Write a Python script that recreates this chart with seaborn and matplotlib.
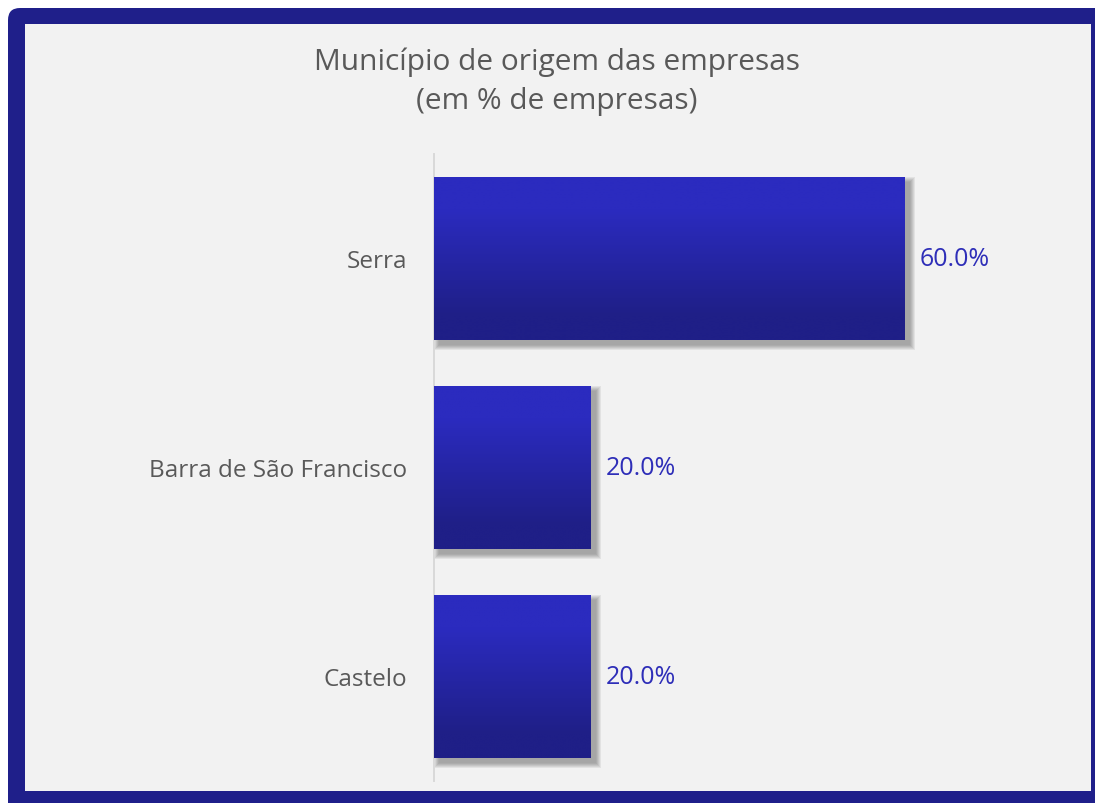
import matplotlib
matplotlib.use("Agg")
import matplotlib.pyplot as plt
import matplotlib.transforms as mtransforms
import numpy as np
import seaborn as sns
from matplotlib.colors import LinearSegmentedColormap
from matplotlib.patches import FancyBboxPatch, Rectangle

# data
municipios = ["Serra", "Barra de São Francisco", "Castelo"]
percentuais = [60.0, 20.0, 20.0]

BORDER = "#1f1f8a"
BG = "#f2f2f2"
TEXT = "#595959"
LABEL = "#2e2eb8"
BAR_TOP = "#2b2bbf"
BAR_BOTTOM = "#1f1f87"

sns.set_theme(style="white")
plt.rcParams["font.family"] = ["Open Sans", "DejaVu Sans"]

W, H = 1095, 804
fig = plt.figure(figsize=(W / 100, H / 100), dpi=100)
fig.patch.set_facecolor("white")
ident = mtransforms.IdentityTransform()

# outer frame with rounded corner, light panel inside
fig.add_artist(FancyBboxPatch((8, -26), 1112, 821,
                              boxstyle="round,pad=0,rounding_size=12",
                              facecolor=BORDER, edgecolor="none",
                              transform=ident, zorder=0))
fig.add_artist(Rectangle((25, H - 792), 1066, 767, facecolor=BG,
                         edgecolor="none", transform=ident, zorder=0.5))

ax = fig.add_axes([434 / W, (H - 782) / H, (1075 - 434) / W, (782 - 155) / H])
ax.set_facecolor("none")
ax.set_zorder(2)

sns.barplot(x=percentuais, y=municipios, orient="h", width=0.776,
            color=BAR_TOP, ax=ax, zorder=3)
ax.set_xlim(0, 81.7)
ax.set_ylim(2.5, -0.5)

for s in ["top", "right", "bottom"]:
    ax.spines[s].set_visible(False)
ax.spines["left"].set_color("#d9d9d9")
ax.spines["left"].set_linewidth(1.4)
ax.set_xticks([])
ax.set_xlabel("")
ax.set_ylabel("")
ax.tick_params(axis="y", length=0, pad=19, labelsize=17.5, labelcolor=TEXT)

# gradient fill + soft shadow for each bar
cmap = LinearSegmentedColormap.from_list(
    "bar", [(0, BAR_TOP), (0.2, BAR_TOP), (0.85, BAR_BOTTOM), (1, BAR_BOTTOM)], N=256)
grad = np.linspace(0, 1, 256).reshape(-1, 1)
fig.canvas.draw()
for patch in list(ax.patches):
    bb = patch.get_bbox()
    x0, x1 = bb.x0, bb.x1
    ylo, yhi = min(bb.y0, bb.y1), max(bb.y0, bb.y1)
    img = ax.imshow(grad, cmap=cmap, aspect="auto", origin="upper",
                    extent=(x0, x1, yhi, ylo), zorder=3, interpolation="bilinear")
    img.set_clip_path(patch)
    patch.set_facecolor("none")
    patch.set_edgecolor("none")
    # shadow in pixel space, offset to the lower right
    (px0, py0), (px1, py1) = ax.transData.transform([(x0, yhi), (x1, ylo)])
    for k in range(1, 12):
        ax.add_patch(Rectangle((px0 + 5 - k * 0.5, py0 - 5 - k * 0.5),
                               (px1 - px0) + k * 1.0, (py1 - py0) + k * 1.0,
                               facecolor="black", edgecolor="none",
                               alpha=0.03, transform=ident, zorder=2))

ax.set_xlim(0, 81.7)
ax.set_ylim(2.5, -0.5)

for i, v in enumerate(percentuais):
    ax.annotate(f"{v:.1f}%", xy=(v, i), xytext=(11, 0),
                textcoords="offset points", va="center", ha="left",
                fontsize=18, color=LABEL)

fig.text(557 / W, 1 - 62 / H, "Município de origem das empresas",
         ha="center", va="center", fontsize=21.5, color=TEXT)
fig.text(557 / W, 1 - 102 / H, "(em % de empresas)",
         ha="center", va="center", fontsize=21.5, color=TEXT)

fig.savefig("out.png", dpi=100, facecolor="white")
